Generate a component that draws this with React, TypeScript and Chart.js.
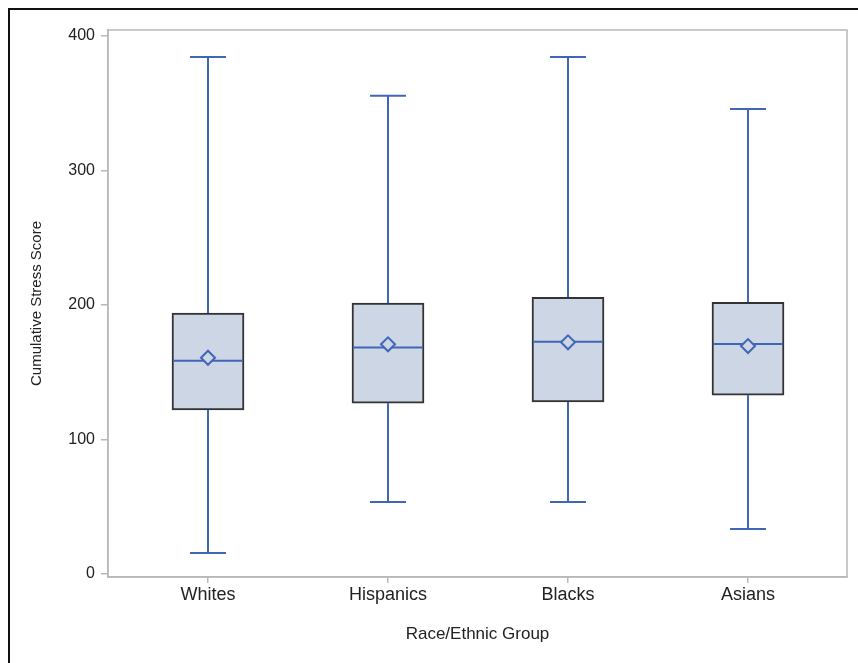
import React, { useEffect, useRef } from "react";
import { Chart, registerables } from "chart.js";

Chart.register(...registerables);

const groups = ["Whites", "Hispanics", "Blacks", "Asians"];
const whiskerLow = [15.6, 53.5, 53.5, 33.5];
const q1 = [122, 127, 128, 133];
const median = [158.5, 168.5, 172.7, 171];
const q3 = [194, 201.5, 205.7, 202];
const whiskerHigh = [384.5, 355.6, 384.5, 345.7];
const means = [160.8, 170.8, 172.3, 169.5];
const yTicks = [0, 100, 200, 300, 400];

const FONT = "'Liberation Sans', Arial, sans-serif";
const BOX_FILL = "#cdd6e5";
const BOX_EDGE = "#333333";
const BLUE = "#4066b8";
const FRAME = "#b9b9b9";
const BOX_W = 72;
const CAP_W = 36;

const boxPlugin = {
  id: "boxExtras",
  beforeDatasetsDraw(chart: any) {
    const { ctx, chartArea, scales } = chart;
    const { left, top, right, bottom } = chartArea;
    const x = scales.x;
    const y = scales.y;
    ctx.save();
    ctx.strokeStyle = FRAME;
    ctx.lineWidth = 1.5;
    ctx.strokeRect(left, top, right - left, bottom - top);
    ctx.strokeStyle = BLUE;
    ctx.lineWidth = 2;
    groups.forEach((_, i) => {
      const px = x.getPixelForValue(i);
      const yHi = y.getPixelForValue(whiskerHigh[i]);
      const yQ3 = y.getPixelForValue(q3[i]);
      const yQ1 = y.getPixelForValue(q1[i]);
      const yLo = y.getPixelForValue(whiskerLow[i]);
      ctx.beginPath();
      ctx.moveTo(px, yQ3);
      ctx.lineTo(px, yHi);
      ctx.moveTo(px - CAP_W / 2, yHi);
      ctx.lineTo(px + CAP_W / 2, yHi);
      ctx.moveTo(px, yQ1);
      ctx.lineTo(px, yLo);
      ctx.moveTo(px - CAP_W / 2, yLo);
      ctx.lineTo(px + CAP_W / 2, yLo);
      ctx.stroke();
    });
    ctx.restore();
  },
  afterDatasetDraw(chart: any, args: any) {
    if (args.index !== 0) return;
    const { ctx, scales } = chart;
    const x = scales.x;
    const y = scales.y;
    ctx.save();
    ctx.strokeStyle = BLUE;
    ctx.lineWidth = 2;
    groups.forEach((_, i) => {
      const px = x.getPixelForValue(i);
      const py = y.getPixelForValue(median[i]);
      ctx.beginPath();
      ctx.moveTo(px - BOX_W / 2 + 1, py);
      ctx.lineTo(px + BOX_W / 2 - 1, py);
      ctx.stroke();
    });
    ctx.restore();
  },
};

export default function App() {
  const ref = useRef<HTMLCanvasElement | null>(null);
  useEffect(() => {
    if (!ref.current) return;
    const chart = new Chart(ref.current, {
      type: "bar",
      data: {
        datasets: [
          {
            type: "bar",
            data: groups.map((_, i) => ({ x: i, y: [q1[i], q3[i]] })) as any,
            backgroundColor: BOX_FILL,
            borderColor: BOX_EDGE,
            borderWidth: 2,
            borderSkipped: false,
            barThickness: BOX_W,
            order: 2,
          } as any,
          {
            type: "scatter",
            data: groups.map((_, i) => ({ x: i, y: means[i] })),
            pointStyle: "rectRot",
            pointRadius: 7,
            borderColor: BLUE,
            backgroundColor: BOX_FILL,
            borderWidth: 2,
            order: 1,
          } as any,
        ],
      },
      options: {
        animation: false,
        responsive: false,
        maintainAspectRatio: false,
        devicePixelRatio: 1,
        layout: { padding: { left: 0, top: 30, right: 11, bottom: 0 } },
        plugins: {
          legend: { display: false },
          tooltip: { enabled: false },
        },
        scales: {
          x: {
            type: "linear",
            offset: false,
            min: -100 / 180,
            max: 3 + 99 / 180,
            afterBuildTicks: (s: any) => {
              s.ticks = groups.map((_, i) => ({ value: i }));
            },
            afterFit: (s: any) => {
              s.height = 86;
            },
            grid: { offset: false, drawOnChartArea: false, drawTicks: true, tickLength: 6, color: FRAME, lineWidth: 1.5 },
            border: { color: FRAME, width: 1.5 },
            ticks: {
              callback: (v: any) => groups[v] ?? "",
              color: "#222",
              font: { family: FONT, size: 18 },
              padding: 1,
              maxRotation: 0,
              autoSkip: false,
            },
            title: {
              display: true,
              text: "Race/Ethnic Group",
              color: "#222",
              font: { family: FONT, size: 17 },
              padding: { top: 0, bottom: 18 },
            },
          },
          y: {
            type: "linear",
            min: -2.2,
            max: 404.5,
            afterBuildTicks: (s: any) => {
              s.ticks = yTicks.map((v) => ({ value: v }));
            },
            afterFit: (s: any) => {
              s.width = 108;
            },
            grid: { drawOnChartArea: false, drawTicks: true, tickLength: 7, color: FRAME, lineWidth: 1.5 },
            border: { color: FRAME, width: 1.5 },
            ticks: { color: "#222", font: { family: FONT, size: 16 }, padding: 6 },
            title: {
              display: true,
              text: "Cumulative Stress Score",
              color: "#222",
              font: { family: FONT, size: 15 },
              padding: { top: 28, bottom: 0 },
            },
          },
        },
      } as any,
      plugins: [boxPlugin],
    });
    return () => chart.destroy();
  }, []);

  return (
    <div style={{ position: "fixed", left: 0, top: 0, width: 858, height: 663, background: "#fff" }}>
      <div
        style={{
          position: "absolute",
          left: 8,
          top: 8,
          width: 858,
          height: 663,
          borderLeft: "2px solid #111",
          borderTop: "2px solid #111",
        }}
      />
      <canvas ref={ref} width={858} height={663} style={{ position: "absolute", left: 0, top: 0, width: 858, height: 663 }} />
    </div>
  );
}
